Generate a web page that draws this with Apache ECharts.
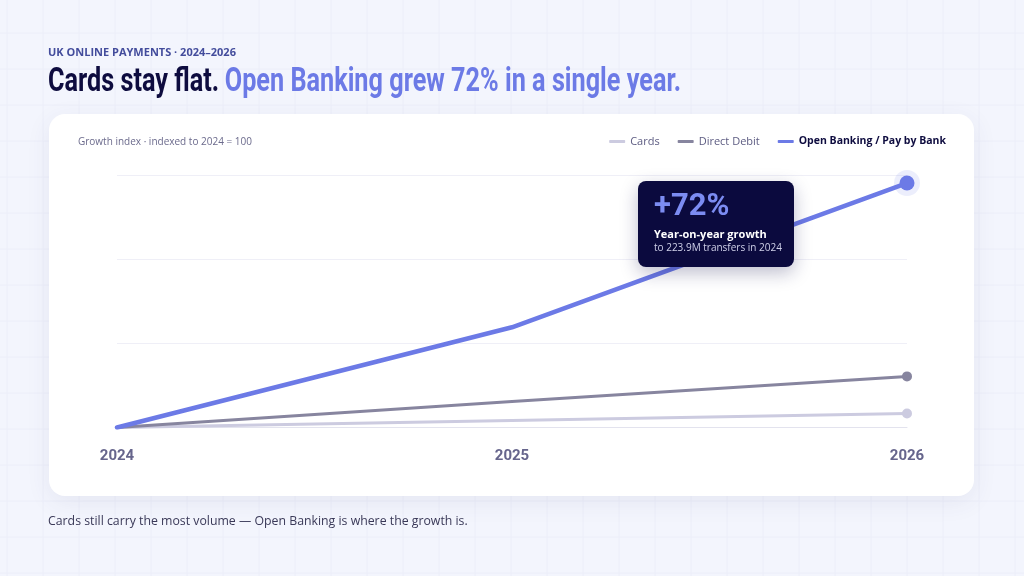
<!DOCTYPE html>
<html>
<head>
<meta charset="utf-8">
<script src="https://cdn.jsdelivr.net/npm/echarts@6/dist/echarts.min.js"></script>
<style>
  html, body { margin: 0; padding: 0; background: #f3f5fd; }
  #chart { width: 1024px; height: 576px; }
</style>
</head>
<body>
<div id="chart"></div>
<script>
// growth index, 2024 = 100
var years = ['2024', '2025', '2026'];
var cardsIdx = [100, 107, 114];
var directDebitIdx = [100, 126, 151];
var openBankingIdx = [100, 200, 344];
// guide lines every 84 index points above the 2024 base
var guideTicks = [0, 84, 168, 252];

var myChart = echarts.init(document.getElementById('chart'));

var FONT = '"Open Sans", "Noto Sans", sans-serif';
var HEAD = '"Roboto", "Liberation Sans", sans-serif';

function endMarked(values, size) {
  var last = values.length - 1;
  return values.map(function (v, i) {
    if (i === last) return { value: v, symbol: 'circle', symbolSize: size };
    return { value: v, symbol: 'none' };
  });
}

// faint page grid behind everything
var bgLines = [];
for (var gx = 7; gx < 1024; gx += 36) {
  bgLines.push({ type: 'line', silent: true, z: -20,
    shape: { x1: gx, y1: 0, x2: gx, y2: 576 },
    style: { stroke: '#eceef9', lineWidth: 1 } });
}
for (var gy = 33; gy < 576; gy += 36) {
  bgLines.push({ type: 'line', silent: true, z: -20,
    shape: { x1: 0, y1: gy, x2: 1024, y2: gy },
    style: { stroke: '#eceef9', lineWidth: 1 } });
}

var option = {
  backgroundColor: '#f3f5fd',
  animation: false,
  textStyle: { fontFamily: FONT },
  legend: {
    right: 73,
    top: 131,
    itemWidth: 16,
    itemHeight: 3,
    itemGap: 18,
    icon: 'roundRect',
    textStyle: { color: '#5d5c82', fontSize: 11, fontFamily: FONT },
    data: [
      { name: 'Cards' },
      { name: 'Direct Debit' },
      { name: 'Open Banking / Pay by Bank', textStyle: { color: '#0e0c3f', fontWeight: 'bold', fontSize: 10.5 } }
    ]
  },
  grid: { left: 117, right: 117, top: 175, bottom: 148.5 },
  xAxis: {
    type: 'category',
    data: years,
    boundaryGap: false,
    axisTick: { show: false },
    axisLine: { lineStyle: { color: '#e3e3ee', width: 1 } },
    axisLabel: { color: '#66658c', fontSize: 15, fontWeight: 'bold', fontFamily: HEAD, margin: 21 }
  },
  yAxis: [
    { type: 'value', min: 100, max: 352, show: false, splitLine: { show: false } },
    { type: 'value', min: guideTicks[0], max: guideTicks[guideTicks.length - 1], interval: 84,
      axisLine: { show: false }, axisTick: { show: false }, axisLabel: { show: false },
      splitLine: { lineStyle: { color: '#efeff7', width: 1 } } }
  ],
  series: [
    {
      name: 'Cards', type: 'line', yAxisIndex: 0, z: 3,
      color: '#cccbe0',
      lineStyle: { width: 3, cap: 'round' },
      itemStyle: { color: '#cccbe0' },
      data: endMarked(cardsIdx, 10)
    },
    {
      name: 'Direct Debit', type: 'line', yAxisIndex: 0, z: 4,
      color: '#87859f',
      lineStyle: { width: 3, cap: 'round' },
      itemStyle: { color: '#87859f' },
      data: endMarked(directDebitIdx, 10)
    },
    {
      name: 'halo', type: 'scatter', yAxisIndex: 0, z: 4, silent: true,
      symbolSize: 26,
      itemStyle: { color: 'rgba(108,122,230,0.16)' },
      data: [[years[years.length - 1], openBankingIdx[openBankingIdx.length - 1]]]
    },
    {
      name: 'Open Banking / Pay by Bank', type: 'line', yAxisIndex: 0, z: 5,
      color: '#6c7ae6',
      lineStyle: { width: 4.5, cap: 'round' },
      itemStyle: { color: '#6c7ae6' },
      data: endMarked(openBankingIdx, 15)
    }
  ],
  graphic: bgLines.concat([
    {
      type: 'text', left: 48, top: 48, scaleX: 1.1, originX: 0,
      style: { text: 'UK ONLINE PAYMENTS · 2024–2026', fill: '#434c9c',
        font: 'bold 10px ' + FONT }
    },
    {
      type: 'text', left: 48, top: 66, scaleX: 0.765, originX: 0,
      style: {
        text: '{a|Cards stay flat.} {b|Open Banking grew 72% in a single year.}',
        rich: {
          a: { fill: '#0e0c3f', fontSize: 33, fontWeight: 'bold', fontFamily: HEAD },
          b: { fill: '#6c7ae6', fontSize: 33, fontWeight: 'bold', fontFamily: HEAD, padding: [0, 0, 0, 4] }
        }
      }
    },
    {
      type: 'rect', z: -10, silent: true,
      shape: { x: 49, y: 114, width: 925, height: 382, r: 16 },
      style: { fill: '#ffffff', shadowBlur: 24, shadowOffsetY: 6, shadowColor: 'rgba(60,60,120,0.08)' }
    },
    {
      type: 'text', left: 78, top: 137,
      style: { text: 'Growth index · indexed to 2024 = 100', fill: '#6b6a8c', font: '10px ' + FONT }
    },
    { type: 'rect', z: 100, shape: { x: 638, y: 181, width: 156, height: 86, r: 8 },
      style: { fill: '#0b0a3e', shadowBlur: 18, shadowOffsetY: 6, shadowColor: 'rgba(20,20,80,0.28)' } },
    { type: 'text', z: 101, x: 654, y: 192,
      style: { text: '+72%', fill: '#7c8cf2', font: 'bold 31px ' + HEAD } },
    { type: 'text', z: 101, x: 654, y: 229,
      style: { text: 'Year-on-year growth', fill: '#ffffff', font: 'bold 11px ' + FONT } },
    { type: 'text', z: 101, x: 654, y: 243,
      style: { text: 'to 223.9M transfers in 2024', fill: '#cfd0e8', font: '10px ' + FONT } },
    {
      type: 'text', left: 48, top: 515,
      style: { text: 'Cards still carry the most volume — Open Banking is where the growth is.',
        fill: '#3a3958', font: '12.3px ' + FONT }
    }
  ])
};

myChart.setOption(option);
</script>
</body>
</html>
